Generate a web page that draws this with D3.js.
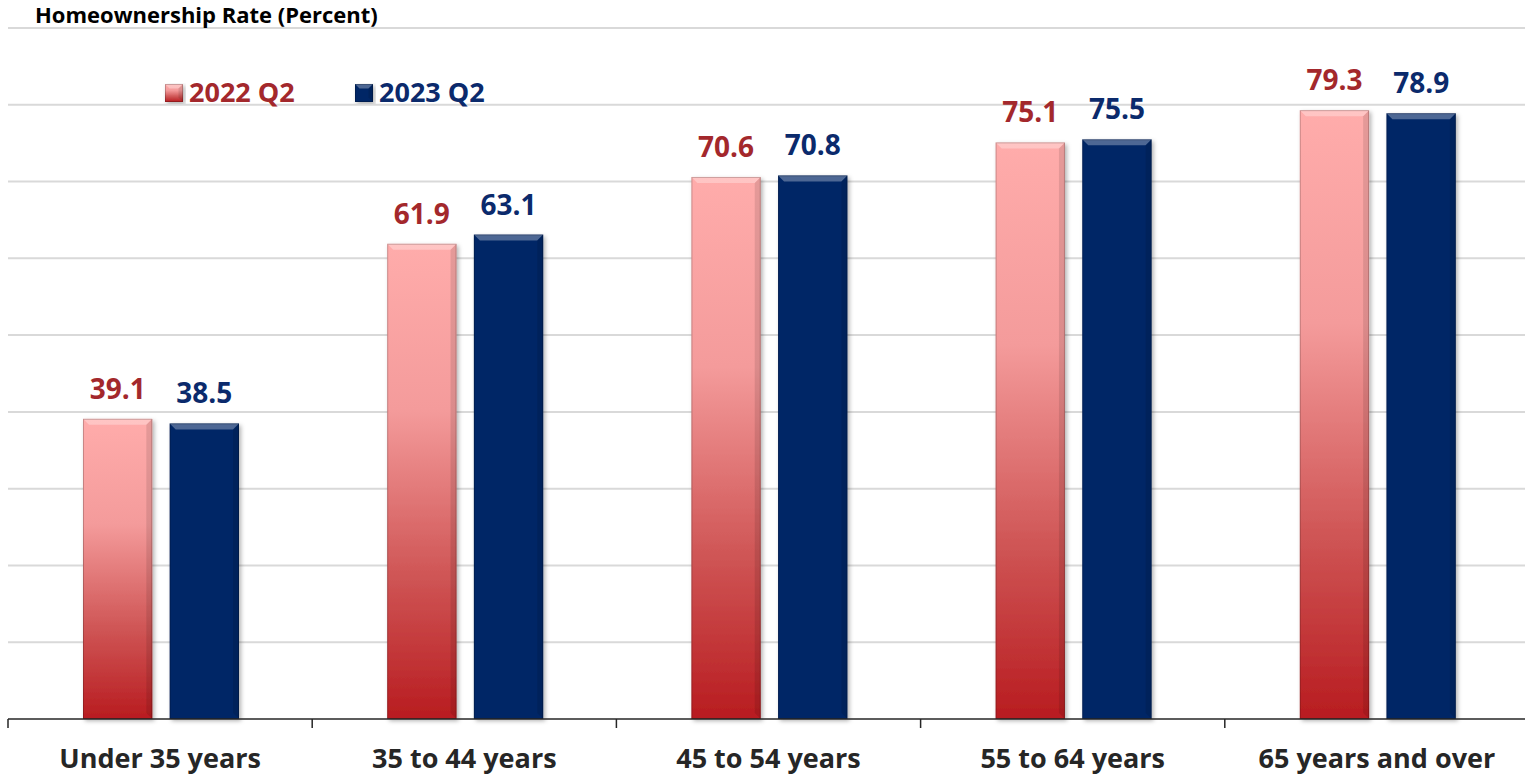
<!DOCTYPE html>
<html>
<head>
<meta charset="utf-8">
<script src="https://cdnjs.cloudflare.com/ajax/libs/d3/7.8.5/d3.min.js"></script>
<style>
  body { margin: 0; background: #fff; }
  text { font-family: "Open Sans", Lato, sans-serif; font-weight: bold; }
</style>
</head>
<body>
<svg id="chart" width="1525" height="778"></svg>
<script>
var categories = ['Under 35 years', '35 to 44 years', '45 to 54 years', '55 to 64 years', '65 years and over'];
var seriesNames = ['2022 Q2', '2023 Q2'];
var values2022 = [39.1, 61.9, 70.6, 75.1, 79.3];
var values2023 = [38.5, 63.1, 70.8, 75.5, 78.9];
var yTicks = [0, 10, 20, 30, 40, 50, 60, 70, 80, 90];

var svg = d3.select('#chart');

var x = d3.scaleBand().domain(categories).range([8, 1529]);
var inner = d3.scaleBand().domain(seriesNames).range([75, 231]).paddingInner(0.2);
var y = d3.scaleLinear().domain([0, 90]).range([719, 28]);

var defs = svg.append('defs');
var pink = defs.append('linearGradient').attr('id', 'pinkGrad')
    .attr('x1', 0).attr('y1', 0).attr('x2', 0).attr('y2', 1);
pink.append('stop').attr('offset', '0%').attr('stop-color', '#ffacab');
pink.append('stop').attr('offset', '35%').attr('stop-color', '#f49b9b');
pink.append('stop').attr('offset', '70%').attr('stop-color', '#cf5555');
pink.append('stop').attr('offset', '100%').attr('stop-color', '#b81c20');

var shadow = defs.append('filter').attr('id', 'shadow')
    .attr('x', '-10%').attr('y', '-5%').attr('width', '125%').attr('height', '115%');
shadow.append('feDropShadow').attr('dx', 2).attr('dy', 2).attr('stdDeviation', 2)
    .attr('flood-color', '#000').attr('flood-opacity', 0.3);

// gridlines
svg.append('g').selectAll('line')
    .data(yTicks.slice(1))
    .enter().append('line')
    .attr('x1', 8).attr('x2', 1525)
    .attr('y1', function (d) { return y(d); })
    .attr('y2', function (d) { return y(d); })
    .attr('stroke', '#d9d9d9').attr('stroke-width', 2);

// title
svg.append('text').attr('x', 35).attr('y', 23)
    .attr('font-size', 22).attr('fill', '#000')
    .text('Homeownership Rate (Percent)');

var series = [
    { name: seriesNames[0], values: values2022, fill: 'url(#pinkGrad)', label: '#a3282c' },
    { name: seriesNames[1], values: values2023, fill: '#062566', label: '#0b2a6c' }
];

function drawBar(g, bx, by, bw, bh, s) {
    g.append('rect').attr('x', bx).attr('y', by).attr('width', bw).attr('height', bh)
        .attr('fill', s.fill).attr('filter', 'url(#shadow)');
    // bevel on top
    var b = Math.min(6, bw / 4);
    g.append('path')
        .attr('d', 'M' + bx + ',' + by + 'L' + (bx + bw) + ',' + by + 'L' + (bx + bw - b) + ',' + (by + b) + 'L' + (bx + b) + ',' + (by + b) + 'Z')
        .attr('fill', '#fff').attr('opacity', 0.3);
    g.append('path')
        .attr('d', 'M' + (bx + bw) + ',' + by + 'L' + (bx + bw - b) + ',' + (by + b) + 'L' + (bx + bw - b) + ',' + (by + bh - b) + 'L' + (bx + bw) + ',' + (by + bh) + 'Z')
        .attr('fill', '#000').attr('opacity', 0.1);
    g.append('rect').attr('x', bx + 0.5).attr('y', by + 0.5).attr('width', bw - 1).attr('height', bh - 1)
        .attr('fill', 'none').attr('stroke', '#000').attr('stroke-opacity', 0.2);
}

var bars = svg.append('g');
categories.forEach(function (c, i) {
    series.forEach(function (s) {
        var bx = x(c) + inner(s.name);
        var bw = inner.bandwidth();
        var by = y(s.values[i]);
        drawBar(bars, bx, by, bw, y(0) - by, s);
        bars.append('text')
            .attr('x', bx + bw / 2).attr('y', by - 20)
            .attr('text-anchor', 'middle').attr('font-size', 28)
            .attr('fill', s.label)
            .text(s.values[i].toFixed(1));
    });
});

// x axis
var xAxis = svg.append('g').attr('transform', 'translate(0,' + y(0) + ')');
xAxis.append('line').attr('x1', 8).attr('x2', 1525).attr('stroke', '#262626').attr('stroke-width', 1.5);
xAxis.selectAll('.tick')
    .data(categories)
    .enter().append('line')
    .attr('x1', function (d) { return x(d); })
    .attr('x2', function (d) { return x(d); })
    .attr('y1', 0).attr('y2', 9)
    .attr('stroke', '#262626').attr('stroke-width', 1.5);
xAxis.selectAll('.lbl')
    .data(categories)
    .enter().append('text')
    .attr('x', function (d) { return x(d) + x.bandwidth() / 2; })
    .attr('y', 49)
    .attr('text-anchor', 'middle').attr('font-size', 27).attr('fill', '#262626')
    .text(function (d) { return d; });

// legend
var legendX = [165, 355];
series.forEach(function (s, i) {
    var lg = svg.append('g').attr('transform', 'translate(' + legendX[i] + ',84)');
    drawBar(lg, 0, 0, 18, 18, s);
    lg.append('text').attr('x', 24).attr('y', 18)
        .attr('font-size', 27).attr('fill', s.label).text(s.name);
});
</script>
</body>
</html>
